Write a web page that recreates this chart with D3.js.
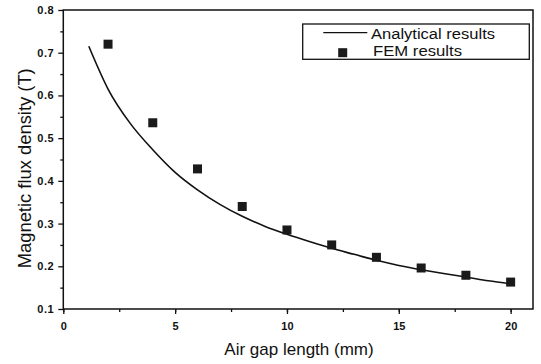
<!DOCTYPE html>
<html><head><meta charset="utf-8">
<script src="https://cdn.jsdelivr.net/npm/d3@7"></script>
<style>body{margin:0;background:#fff}svg{display:block}text{font-family:"Liberation Sans",Arial,sans-serif;fill:#111}</style>
</head><body><svg id="c" width="541" height="364"></svg>
<script>
const xTicks = [0, 5, 10, 15, 20];
const yTicks = [0.1, 0.2, 0.3, 0.4, 0.5, 0.6, 0.7, 0.8];
const analyticX = [1.14, 2, 3, 4, 5, 6, 7, 8, 9, 10, 11, 12, 13, 14, 15, 16, 17, 18, 19, 20];
const analyticY = [0.715, 0.615, 0.534, 0.473, 0.420, 0.379, 0.345, 0.317, 0.294, 0.275, 0.258, 0.242, 0.228, 0.214, 0.202, 0.192, 0.183, 0.175, 0.166, 0.159];
const femX = [2, 4, 6, 8, 10, 12, 14, 16, 18, 20];
const femY = [0.720, 0.536, 0.428, 0.340, 0.285, 0.250, 0.221, 0.196, 0.179, 0.163];
const xLabel = "Air gap length (mm)";
const yLabel = "Magnetic flux density (T)";
const legendLabels = ["Analytical results", "FEM results"];

const L = 63.3, R = 533, T = 10, B = 309;
const svg = d3.select("#c");
const x = d3.scaleLinear().domain([0, 21]).range([L, R]);
const y = d3.scaleLinear().domain([0.1, 0.8]).range([B, T]);
const FF = '"Liberation Sans",Arial,sans-serif';

// frame
svg.append("rect").attr("x", L).attr("y", T).attr("width", R - L).attr("height", B - T)
  .attr("fill", "none").attr("stroke", "#111").attr("stroke-width", 1.5);

// x axis
const gx = svg.append("g").attr("transform", `translate(0,${B})`);
gx.call(d3.axisBottom(x).tickValues(d3.range(0, 21, 2.5)).tickSize(3).tickFormat(""));
gx.select(".domain").remove();
const gx2 = svg.append("g").attr("transform", `translate(0,${B})`)
  .call(d3.axisBottom(x).tickValues(xTicks).tickSize(5).tickPadding(8).tickFormat(d3.format("d")));
gx2.select(".domain").remove();
gx2.selectAll("text").attr("font-size", 11).attr("font-weight", "bold").style("font-family", FF);

// y axis
const gy = svg.append("g").attr("transform", `translate(${L},0)`);
gy.call(d3.axisLeft(y).tickValues(d3.range(0.15, 0.8, 0.1)).tickSize(3).tickFormat(""));
gy.select(".domain").remove();
const gy2 = svg.append("g").attr("transform", `translate(${L},0)`)
  .call(d3.axisLeft(y).tickValues(yTicks).tickSize(5).tickPadding(4).tickFormat(d3.format(".1f")));
gy2.select(".domain").remove();
gy2.selectAll("text").attr("font-size", 11).attr("font-weight", "bold").attr("letter-spacing", 0.6).style("font-family", FF);
svg.selectAll("g line").attr("stroke", "#111").attr("stroke-width", 1.3);

// axis titles
svg.append("text").attr("x", 299).attr("y", 355).attr("text-anchor", "middle")
  .attr("font-size", 17).text(xLabel);
svg.append("text").attr("transform", `translate(31,168.3) rotate(-90)`).attr("text-anchor", "middle")
  .attr("font-size", 17.5).attr("textLength", 200).attr("lengthAdjust", "spacingAndGlyphs").text(yLabel);

// analytical line
const line = d3.line().x(d => x(d[0])).y(d => y(d[1])).curve(d3.curveMonotoneX);
svg.append("path").datum(d3.zip(analyticX, analyticY)).attr("d", line)
  .attr("fill", "none").attr("stroke", "#111").attr("stroke-width", 1.6);

// FEM markers
const s = 9;
svg.selectAll("rect.fem").data(d3.zip(femX, femY)).enter().append("rect").attr("class", "fem")
  .attr("x", d => x(d[0]) - s / 2).attr("y", d => y(d[1]) - s / 2)
  .attr("width", s).attr("height", s).attr("fill", "#1a1a1a");

// legend
const lg = svg.append("g");
lg.append("rect").attr("x", 302.7).attr("y", 24).attr("width", 226.6).attr("height", 35.3)
  .attr("fill", "#fff").attr("stroke", "#111").attr("stroke-width", 1.3);
lg.append("line").attr("x1", 323.3).attr("x2", 367.3).attr("y1", 32.7).attr("y2", 32.7)
  .attr("stroke", "#111").attr("stroke-width", 1.2);
lg.append("rect").attr("x", 342.7 - s / 2).attr("y", 52.7 - s / 2).attr("width", s).attr("height", s).attr("fill", "#1a1a1a");
lg.append("text").attr("x", 371).attr("y", 38.5).attr("font-size", 15.5)
  .attr("textLength", 124).attr("lengthAdjust", "spacingAndGlyphs").text(legendLabels[0]);
lg.append("text").attr("x", 373).attr("y", 55.5).attr("font-size", 15.5)
  .attr("textLength", 89).attr("lengthAdjust", "spacingAndGlyphs").text(legendLabels[1]);
</script></body></html>
